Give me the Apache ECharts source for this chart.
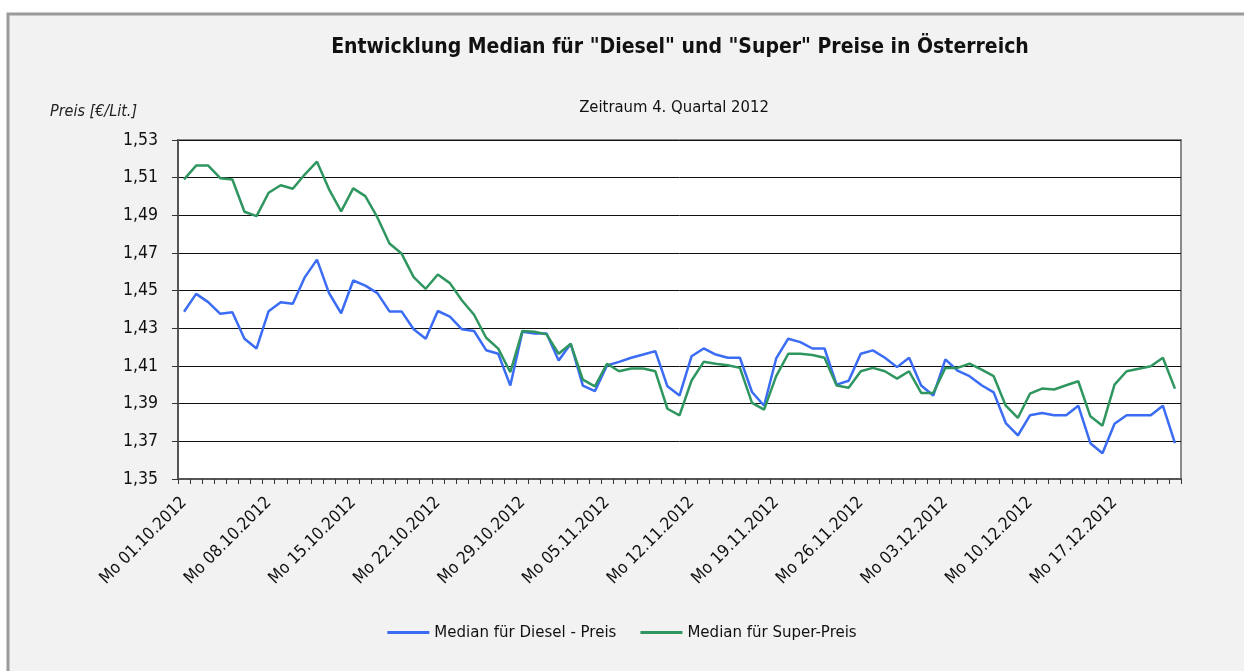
<!DOCTYPE html>
<html>
<head>
<meta charset="utf-8">
<script src="https://cdn.jsdelivr.net/npm/echarts@6/dist/echarts.min.js"></script>
<style>
  html, body { margin: 0; padding: 0; background: #fff; }
  #chart { width: 1244px; height: 671px; }
</style>
</head>
<body>
<div id="chart"></div>
<script>
// Median Treibstoffpreise Oesterreich, 4. Quartal 2012
var startDate = [2012, 9, 1];   // 01.10.2012
var dayCount = 83;
var weekdays = ['So', 'Mo', 'Di', 'Mi', 'Do', 'Fr', 'Sa'];

var dieselPreis = [
    1.4388, 1.4483, 1.4439, 1.4377, 1.4385, 1.4245, 1.4193,
    1.4391, 1.4439, 1.4430, 1.4572, 1.4665, 1.4487, 1.4380,
    1.4554, 1.4527, 1.4487, 1.4390, 1.4390, 1.4295, 1.4245,
    1.4392, 1.4362, 1.4295, 1.4286, 1.4184, 1.4165, 1.3996,
    1.4282, 1.4272, 1.4272, 1.4129, 1.4218, 1.3996, 1.3966,
    1.4103, 1.4122, 1.4144, 1.4161, 1.4179, 1.3992, 1.3943,
    1.4152, 1.4193, 1.4161, 1.4144, 1.4144, 1.3962, 1.3889,
    1.4140, 1.4245, 1.4227, 1.4193, 1.4193, 1.4001, 1.4022,
    1.4165, 1.4183, 1.4144, 1.4094, 1.4144, 1.3996, 1.3943,
    1.4135, 1.4076, 1.4046, 1.3998, 1.3960, 1.3797, 1.3731,
    1.3838, 1.3850, 1.3838, 1.3838, 1.3889, 1.3690, 1.3637,
    1.3793, 1.3838, 1.3838, 1.3838, 1.3889, 1.3690
];
var superPreis = [
    1.5091, 1.5164, 1.5164, 1.5097, 1.5090, 1.4919, 1.4896,
    1.5020, 1.5060, 1.5041, 1.5118, 1.5185, 1.5038, 1.4921,
    1.5043, 1.5002, 1.4889, 1.4750, 1.4697, 1.4572, 1.4510,
    1.4586, 1.4540, 1.4448, 1.4372, 1.4250, 1.4192, 1.4067,
    1.4286, 1.4282, 1.4268, 1.4165, 1.4218, 1.4028, 1.3992,
    1.4112, 1.4072, 1.4087, 1.4087, 1.4072, 1.3873, 1.3838,
    1.4023, 1.4122, 1.4112, 1.4104, 1.4090, 1.3904, 1.3868,
    1.4046, 1.4165, 1.4165, 1.4158, 1.4144, 1.3996, 1.3984,
    1.4072, 1.4090, 1.4072, 1.4033, 1.4072, 1.3957, 1.3957,
    1.4090, 1.4090, 1.4112, 1.4081, 1.4046, 1.3889, 1.3824,
    1.3953, 1.3980, 1.3975, 1.3998, 1.4019, 1.3833, 1.3783,
    1.4001, 1.4072, 1.4085, 1.4099, 1.4144, 1.3980
];

function pad(n) { return n < 10 ? '0' + n : '' + n; }
var tage = [];
for (var i = 0; i < dayCount; i++) {
    var d = new Date(startDate[0], startDate[1], startDate[2] + i);
    tage.push(weekdays[d.getDay()] + ' ' + pad(d.getDate()) + '.' + pad(d.getMonth() + 1) + '.' + d.getFullYear());
}

var fontNarrow = '"Liberation Sans Narrow", "Arial Narrow", "DejaVu Sans Condensed", sans-serif';

var chart = echarts.init(document.getElementById('chart'));
var option = {
    backgroundColor: '#fff',
    animation: false,
    color: ['#3b6cf4', '#2f9660'],
    graphic: [{
        type: 'rect',
        z: -10,
        shape: { x: 8, y: 14, width: 1300, height: 700 },
        style: { fill: '#f2f2f2', stroke: '#9a9a9a', lineWidth: 3 }
    }, {
        type: 'text',
        left: 50,
        top: 104,
        style: {
            text: 'Preis [€/Lit.]',
            font: 'italic 16px ' + fontNarrow,
            fill: '#222'
        }
    }],
    title: [{
        text: 'Entwicklung Median für "Diesel" und "Super" Preise in Österreich',
        left: 675,
        top: 32,
        textAlign: 'center',
        textStyle: { fontFamily: fontNarrow, fontSize: 21, fontWeight: 'bold', color: '#111' }
    }, {
        text: 'Zeitraum 4. Quartal 2012',
        left: 669,
        top: 94,
        textAlign: 'center',
        textStyle: { fontFamily: fontNarrow, fontSize: 16.5, fontWeight: 'normal', color: '#111' }
    }],
    legend: {
        left: 'center',
        top: 619,
        icon: 'rect',
        itemWidth: 42,
        itemHeight: 3,
        itemGap: 24,
        textStyle: { fontFamily: fontNarrow, fontSize: 16.7, color: '#111' },
        data: ['Median für Diesel - Preis', 'Median für Super-Preis']
    },
    grid: {
        left: 178,
        right: 63,
        top: 140,
        bottom: 192,
        show: true,
        backgroundColor: '#fff',
        borderColor: '#8a8a8a',
        borderWidth: 2
    },
    xAxis: {
        type: 'category',
        boundaryGap: true,
        data: tage,
        axisLine: { lineStyle: { color: '#555', width: 2 } },
        axisTick: { show: true, interval: 0, length: 5, lineStyle: { color: '#333' } },
        axisLabel: {
            interval: 6,
            rotate: 45,
            margin: 21,
            fontFamily: fontNarrow,
            fontSize: 17,
            color: '#111'
        },
        splitLine: { show: false }
    },
    yAxis: {
        type: 'value',
        min: 1.35,
        max: 1.53,
        interval: 0.02,
        axisLine: { show: true, lineStyle: { color: '#555', width: 2 } },
        axisTick: { show: true, length: 6, lineStyle: { color: '#333' } },
        axisLabel: {
            margin: 20,
            fontFamily: fontNarrow,
            fontSize: 17.5,
            color: '#111',
            formatter: function (v) { return v.toFixed(2).replace('.', ','); }
        },
        splitLine: { lineStyle: { color: '#111', width: 1 } }
    },
    series: [{
        name: 'Median für Diesel - Preis',
        type: 'line',
        symbol: 'none',
        lineStyle: { width: 2.5 },
        data: dieselPreis
    }, {
        name: 'Median für Super-Preis',
        type: 'line',
        symbol: 'none',
        lineStyle: { width: 2.5 },
        data: superPreis
    }]
};
chart.setOption(option);
</script>
</body>
</html>
